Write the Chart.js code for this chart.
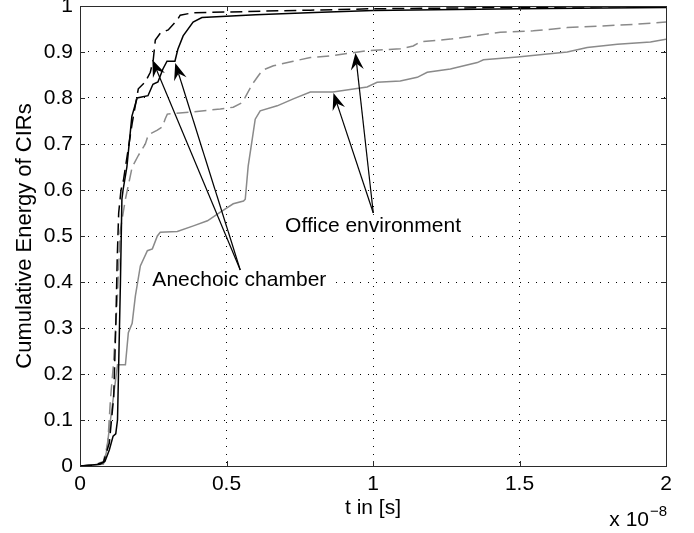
<!DOCTYPE html>
<html>
<head>
<meta charset="utf-8">
<script src="https://cdn.jsdelivr.net/npm/chart.js@4.4.1/dist/chart.umd.min.js"></script>
<style>
  html, body { margin: 0; padding: 0; background: #fff; }
  #c { display: block; }
</style>
</head>
<body>
<canvas id="c" width="694" height="533"></canvas>
<script>
// time axis is in units of 1e-8 s (the "x 10^-8" note sits under the axis)
const anechoicSolidT = [0, 0.04, 0.068, 0.085, 0.1, 0.113, 0.122, 0.128, 0.133, 0.138, 0.143, 0.147, 0.16, 0.177, 0.195, 0.232, 0.249, 0.266, 0.283, 0.297, 0.324, 0.334, 0.352, 0.386, 0.416, 0.6, 0.8, 1.0, 1.5, 2.0];
const anechoicSolidE = [0, 0.002, 0.004, 0.01, 0.035, 0.065, 0.07, 0.1, 0.25, 0.4, 0.58, 0.6, 0.65, 0.76, 0.80, 0.805, 0.83, 0.835, 0.863, 0.88, 0.88, 0.906, 0.935, 0.965, 0.975, 0.981, 0.986, 0.99, 0.994, 0.997];

const anechoicDashT = [0, 0.05, 0.08, 0.1, 0.115, 0.122, 0.127, 0.132, 0.14, 0.148, 0.172, 0.178, 0.199, 0.223, 0.24, 0.25, 0.257, 0.274, 0.301, 0.332, 0.342, 0.383, 0.503, 0.786, 1.0, 1.5, 2.0];
const anechoicDashE = [0, 0.002, 0.008, 0.05, 0.15, 0.3, 0.45, 0.55, 0.6, 0.62, 0.72, 0.745, 0.82, 0.835, 0.856, 0.883, 0.926, 0.941, 0.948, 0.97, 0.98, 0.985, 0.987, 0.991, 0.994, 0.997, 0.999];

const officeSolidT = [0, 0.05, 0.08, 0.09, 0.104, 0.128, 0.155, 0.165, 0.178, 0.189, 0.206, 0.23, 0.247, 0.264, 0.274, 0.332, 0.387, 0.435, 0.479, 0.523, 0.558, 0.564, 0.574, 0.588, 0.598, 0.615, 0.673, 0.728, 0.786, 0.863, 0.98, 1.014, 1.093, 1.151, 1.185, 1.264, 1.356, 1.377, 1.493, 1.663, 1.731, 1.834, 1.947, 2.0];
const officeSolidE = [0, 0.002, 0.004, 0.03, 0.10, 0.22, 0.22, 0.29, 0.31, 0.37, 0.435, 0.468, 0.472, 0.50, 0.508, 0.51, 0.522, 0.533, 0.552, 0.57, 0.576, 0.58, 0.652, 0.711, 0.754, 0.772, 0.783, 0.798, 0.813, 0.813, 0.824, 0.834, 0.837, 0.845, 0.856, 0.863, 0.877, 0.883, 0.889, 0.9, 0.91, 0.917, 0.922, 0.928];

const officeDashT = [0, 0.05, 0.08, 0.095, 0.104, 0.114, 0.127, 0.137, 0.155, 0.165, 0.178, 0.199, 0.223, 0.233, 0.264, 0.281, 0.291, 0.298, 0.387, 0.479, 0.523, 0.554, 0.571, 0.588, 0.605, 0.622, 0.66, 0.728, 0.786, 0.863, 0.98, 1.093, 1.137, 1.161, 1.264, 1.434, 1.547, 1.663, 1.888, 2.0];
const officeDashE = [0, 0.002, 0.01, 0.05, 0.146, 0.22, 0.36, 0.51, 0.58, 0.61, 0.65, 0.675, 0.70, 0.72, 0.73, 0.737, 0.755, 0.765, 0.77, 0.776, 0.78, 0.79, 0.81, 0.83, 0.845, 0.86, 0.87, 0.88, 0.888, 0.892, 0.903, 0.907, 0.913, 0.922, 0.928, 0.943, 0.946, 0.953, 0.96, 0.965];

const xTicks = [0, 0.5, 1, 1.5, 2];
const yTicks = [0, 0.1, 0.2, 0.3, 0.4, 0.5, 0.6, 0.7, 0.8, 0.9, 1];

// text annotations with arrows, anchored in data units
const noteLabels = ['Anechoic chamber', 'Office environment'];
const noteT = [0.247, 0.70];
const noteE = [0.391, 0.509];
const arrowBaseT = [0.547, 1.001];
const arrowBaseE = [0.426, 0.55];
const arrowTipT = [[0.247, 0.325], [0.94, 0.865]];
const arrowTipE = [[0.883, 0.876], [0.898, 0.811]];

const FONT = '"Liberation Sans", Arial, Helvetica, sans-serif';
const GRAY = '#8a8a8a';

function pts(t, e) { return t.map((v, i) => ({ x: v, y: e[i] })); }

function series(label, t, e, color, dashed) {
  return {
    label, data: pts(t, e), borderColor: color, backgroundColor: color,
    borderWidth: 1.5, pointRadius: 0, tension: 0, fill: false,
    borderDash: dashed ? [12, 6] : []
  };
}

function arrow(ctx, x0, y0, x1, y1) {
  const a = Math.atan2(y1 - y0, x1 - x0), c = Math.cos(a), s = Math.sin(a);
  const len = 17, hw = 6.5, notch = 11;
  const p = (along, side) => [x1 - along * c - side * s, y1 - along * s + side * c];
  ctx.beginPath(); ctx.moveTo(x0, y0); ctx.lineTo(...p(notch, 0)); ctx.stroke();
  ctx.beginPath(); ctx.moveTo(x1, y1);
  ctx.lineTo(...p(len, hw)); ctx.lineTo(...p(notch, 0)); ctx.lineTo(...p(len, -hw));
  ctx.closePath(); ctx.fill();
}

// frame, inward ticks, annotations and the exponent note
const overlay = {
  id: 'overlay',
  afterDatasetsDraw(chart) {
    const { ctx, chartArea: a, scales: { x, y } } = chart;
    ctx.save();
    ctx.font = '21px ' + FONT;
    ctx.textBaseline = 'alphabetic';
    noteLabels.forEach((txt, i) => {
      const lx = x.getPixelForValue(noteT[i]), ly = y.getPixelForValue(noteE[i]);
      const w = ctx.measureText(txt).width;
      ctx.fillStyle = '#fff';
      ctx.fillRect(lx - 6, ly - 17, w + 12, 23);
    });
    ctx.strokeStyle = '#000'; ctx.fillStyle = '#000'; ctx.lineWidth = 1.2;
    arrowTipT.forEach((tips, i) => {
      const bx = x.getPixelForValue(arrowBaseT[i]), by = y.getPixelForValue(arrowBaseE[i]);
      tips.forEach((tt, j) => arrow(ctx, bx, by, x.getPixelForValue(tt), y.getPixelForValue(arrowTipE[i][j])));
    });
    ctx.fillStyle = '#000';
    noteLabels.forEach((txt, i) => ctx.fillText(txt, x.getPixelForValue(noteT[i]), y.getPixelForValue(noteE[i])));

    // box
    ctx.strokeStyle = '#2b2b2b'; ctx.lineWidth = 1;
    ctx.strokeRect(Math.round(a.left) + 0.5, Math.round(a.top) + 0.5, Math.round(a.right - a.left), Math.round(a.bottom - a.top));
    ctx.beginPath();
    xTicks.forEach(v => {
      const px = Math.round(x.getPixelForValue(v)) + 0.5;
      ctx.moveTo(px, a.bottom); ctx.lineTo(px, a.bottom - 5);
      ctx.moveTo(px, a.top); ctx.lineTo(px, a.top + 5);
    });
    yTicks.forEach(v => {
      const py = Math.round(y.getPixelForValue(v)) + 0.5;
      ctx.moveTo(a.left, py); ctx.lineTo(a.left + 5, py);
      ctx.moveTo(a.right, py); ctx.lineTo(a.right - 5, py);
    });
    ctx.stroke();

    // x 10^-8
    ctx.fillStyle = '#000';
    ctx.font = '21px ' + FONT;
    ctx.textAlign = 'right';
    ctx.fillText('x 10', a.right - 17, a.bottom + 60);
    ctx.font = '15px ' + FONT;
    ctx.textAlign = 'left';
    ctx.fillText('\u22128', a.right - 16, a.bottom + 50);
    ctx.restore();
  }
};

const tickFont = { family: FONT, size: 21 };
const plain = v => String(Math.round(v * 10) / 10);

new Chart(document.getElementById('c'), {
  type: 'line',
  data: {
    datasets: [
      series('Anechoic 1', anechoicSolidT, anechoicSolidE, '#000', false),
      series('Anechoic 2', anechoicDashT, anechoicDashE, '#000', true),
      series('Office 1', officeSolidT, officeSolidE, GRAY, false),
      series('Office 2', officeDashT, officeDashE, GRAY, true)
    ]
  },
  options: {
    responsive: false, animation: false, devicePixelRatio: 1,
    layout: { padding: { top: 6, right: 28, bottom: 0, left: 0 } },
    plugins: { legend: { display: false }, tooltip: { enabled: false } },
    scales: {
      x: {
        type: 'linear', min: 0, max: 2,
        afterBuildTicks: s => { s.ticks = xTicks.map(v => ({ value: v })); },
        afterFit: s => { s.height = 67; s.paddingLeft = 0; s.paddingRight = 0; },
        ticks: { color: '#000', font: tickFont, padding: 6, maxRotation: 0, callback: plain },
        grid: { color: '#000', lineWidth: 1, drawTicks: false },
        border: { display: false, dash: [1, 7] },
        title: { display: true, text: 't in [s]', color: '#000', font: tickFont, padding: { top: 0, bottom: 12 } }
      },
      y: {
        type: 'linear', min: 0, max: 1,
        afterBuildTicks: s => { s.ticks = yTicks.map(v => ({ value: v })); },
        afterFit: s => { s.width = 80; s.paddingTop = 0; s.paddingBottom = 0; },
        ticks: { color: '#000', font: tickFont, padding: 7, callback: plain },
        grid: { color: '#000', lineWidth: 1, drawTicks: false },
        border: { display: false, dash: [1, 7] },
        title: { display: true, text: 'Cumulative Energy of CIRs', color: '#000', font: { family: FONT, size: 22 }, padding: { top: 12, bottom: 0 } }
      }
    }
  },
  plugins: [overlay]
});
</script>
</body>
</html>
